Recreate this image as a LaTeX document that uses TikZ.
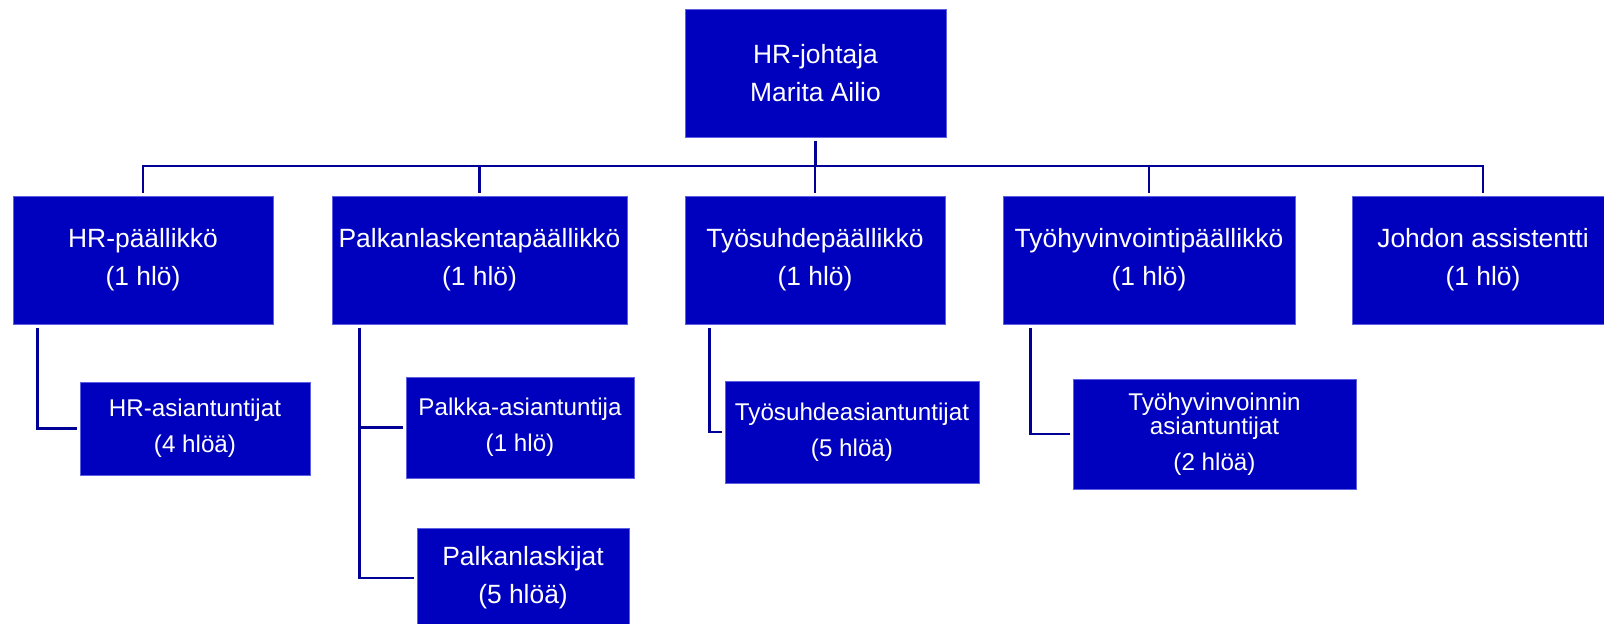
\documentclass[tikz,border=0pt]{standalone}
\usepackage{fontspec}
\setmainfont{Liberation Sans}
\definecolor{boxblue}{RGB}{0,0,191}
\definecolor{boxedge}{RGB}{95,95,225}
\definecolor{linkblue}{RGB}{0,0,150}
\tikzstyle{unit}=[rectangle,fill=boxblue,draw=boxedge,line width=0.5pt,text=white,align=center,inner sep=0pt,font=\fontsize{13.2}{19}\selectfont]
\tikzstyle{subunit}=[unit,font=\fontsize{12.1}{18}\selectfont]
\tikzstyle{link}=[draw=linkblue,line width=1.3pt]

\begin{document}
\begin{tikzpicture}[x=0.5pt,y=-0.5pt]
\useasboundingbox (0,0) rectangle (1604,623);

\node[unit,minimum width=130.5pt,minimum height=64pt] (top) at (815.5,73) {HR-johtaja\\Marita Ailio};

\node[unit,minimum width=130pt,minimum height=64pt] (hrp) at (143,260) {HR-päällikkö\\(1 hlö)};
\node[unit,minimum width=147.5pt,minimum height=64pt] (palk) at (479.5,260) {Palkanlaskentapäällikkö\\(1 hlö)};
\node[unit,minimum width=130pt,minimum height=64pt] (tyos) at (815,260) {Työsuhdepäällikkö\\(1 hlö)};
\node[unit,minimum width=146pt,minimum height=64pt] (tyoh) at (1149,260) {Työhyvinvointipäällikkö\\(1 hlö)};
\node[unit,minimum width=131pt,minimum height=64pt] (jas) at (1483,260) {Johdon assistentti\\(1 hlö)};

\node[subunit,minimum width=115pt,minimum height=46.5pt] (hra) at (195,428.5) {HR-asiantuntijat\\(4 hlöä)};
\node[subunit,minimum width=114pt,minimum height=50.5pt] (pa) at (520,427.5) {Palkka-asiantuntija\\(1 hlö)};
\node[unit,minimum width=106pt,minimum height=50pt] (pl) at (523,578) {Palkanlaskijat\\(5 hlöä)};
\node[subunit,minimum width=127pt,minimum height=51pt] (tsa) at (852,432) {Työsuhdeasiantuntijat\\(5 hlöä)};
\node[subunit,minimum width=141.5pt,minimum height=55pt] (tha) at (1214.5,434) {Työhyvinvoinnin\\[-6pt]asiantuntijat\\(2 hlöä)};

\coordinate (bus) at (815.5,166);
\draw[link,shorten <=1.5pt] (top.south) -- (bus);
\draw[link,shorten <=1.5pt,shorten >=1.5pt] (hrp.north) |- (bus) -| (jas.north);
\draw[link,shorten <=1.5pt] (palk.north) -- (palk.north |- bus);
\draw[link,shorten <=1.5pt] (tyos.north) -- (tyos.north |- bus);
\draw[link,shorten <=1.5pt] (tyoh.north) -- (tyoh.north |- bus);

\draw[link,shorten <=1.5pt,shorten >=1.5pt] ([xshift=12.5pt]hrp.south west) |- (hra.west);
\draw[link,shorten <=1.5pt,shorten >=1.5pt] ([xshift=14pt]palk.south west) |- (pa.west);
\draw[link,shorten <=1.5pt,shorten >=1.5pt] ([xshift=14pt]palk.south west) |- (pl.west);
\draw[link,shorten <=1.5pt,shorten >=1.5pt] ([xshift=12.5pt]tyos.south west) |- (tsa.west);
\draw[link,shorten <=1.5pt,shorten >=1.5pt] ([xshift=14pt]tyoh.south west) |- (tha.west);
\end{tikzpicture}
\end{document}
